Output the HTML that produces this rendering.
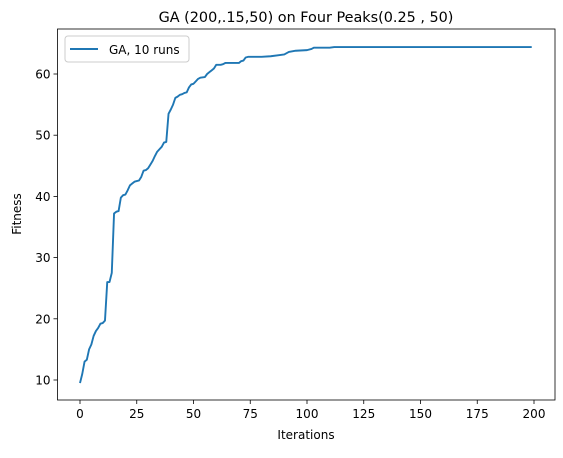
<!DOCTYPE html>
<html><head><meta charset="utf-8"><style>
body{margin:0;background:#fff;}
svg text{font-family:"DejaVu Sans","Liberation Sans",sans-serif;}
</style></head><body>
<svg width="563" height="453" xmlns="http://www.w3.org/2000/svg">
<rect width="563" height="453" fill="#fff"/>
<text x="306" y="22" font-size="14.4" text-anchor="middle">GA (200,.15,50) on Four Peaks(0.25 , 50)</text>
<g id="plot"></g>
<text x="306" y="439" font-size="12" text-anchor="middle">Iterations</text>
<text x="21" y="214" font-size="12" text-anchor="middle" transform="rotate(-90 21 214)">Fitness</text>
<g>
<rect x="65" y="36" width="124" height="26" rx="3" fill="#fff" stroke="#ccc"/>
<line x1="70" y1="49" x2="98" y2="49" stroke="#1f77b4" stroke-width="1.9"/>
<text x="109" y="54" font-size="12">GA, 10 runs</text>
</g>
</svg>
<script>
const iters=[0,1,2,3,4,5,6,7,8,9,10,11,12,13,14,15,16,17,18,19,20,21,22,23,24,25,26,27,28,29,30,31,32,33,34,35,36,37,38,39,40,41,42,43,44,45,46,47,48,49,50,51,52,53,55,56,57,58,59,60,62,63,64,70,71,72,73,74,80,84,88,90,92,95,100,102,103,110,112,199];
const fitness=[9.5,11,13,13.3,15,15.8,17.2,18,18.5,19.2,19.3,19.7,26,26,27.5,37.2,37.5,37.6,39.8,40.2,40.3,41,41.8,42.1,42.4,42.5,42.6,43.2,44.2,44.3,44.6,45.2,45.8,46.6,47.3,47.7,48.1,48.8,48.9,53.5,54.2,55,56.1,56.3,56.6,56.7,56.9,57,57.8,58.3,58.4,58.8,59.2,59.4,59.5,60,60.3,60.6,60.9,61.5,61.5,61.6,61.8,61.8,62.1,62.2,62.7,62.8,62.8,62.9,63.1,63.2,63.6,63.8,63.9,64.1,64.3,64.3,64.4,64.4];
const xTicks=[0,25,50,75,100,125,150,175,200];
const yTicks=[10,20,30,40,50,60];
const L=57.5,R=555,T=29,B=400;
const sx=v=>80+v*(534-80)/200;
const sy=v=>380-(v-10)*(380-74)/50;
const NS="http://www.w3.org/2000/svg";
const g=document.getElementById('plot');
function mk(t,a){const e=document.createElementNS(NS,t);for(const k in a)e.setAttribute(k,a[k]);g.appendChild(e);return e;}
xTicks.forEach(v=>{
 const l=mk('line',{x1:sx(v),x2:sx(v),y1:B,y2:B+4,stroke:'#000','stroke-width':0.8});
 
 
 const t=mk('text',{x:sx(v),y:B+18,'font-size':12,'text-anchor':'middle'});t.textContent=v;
 
 
});
yTicks.forEach(v=>{
 const l=mk('line',{x1:L-4,x2:L,y1:sy(v),y2:sy(v),stroke:'#000','stroke-width':0.8});
 
 
 const t=mk('text',{x:L-7,y:sy(v)+4.5,'font-size':12,'text-anchor':'end'});t.textContent=v;
 
 
});
const pts=iters.map((x,i)=>sx(x).toFixed(2)+','+sy(fitness[i]).toFixed(2)).join(' ');
const line=mk('polyline',{points:pts,fill:'none',stroke:'#1f77b4','stroke-width':1.9,'stroke-linejoin':'round'});


const fr=mk('rect',{x:L,y:T,width:R-L,height:B-T,fill:'none',stroke:'#000','stroke-width':0.8});


</script>
</body></html>
